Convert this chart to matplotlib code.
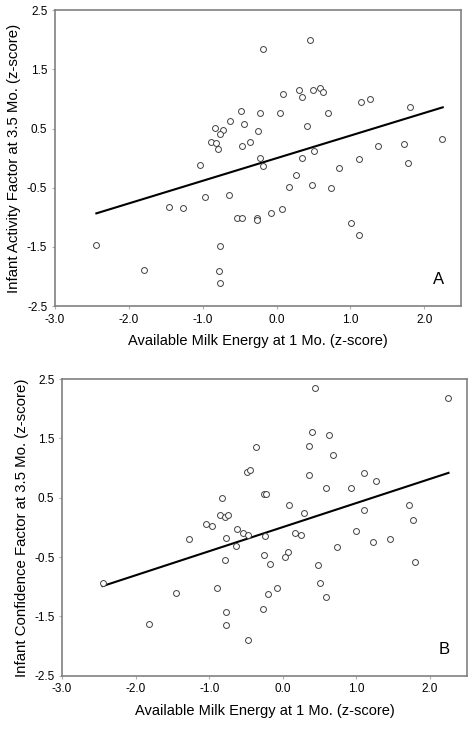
import numpy as np
import matplotlib.pyplot as plt

plt.rcParams["font.family"] = ["Liberation Sans", "DejaVu Sans"]

# Panel A: infant activity factor vs available milk energy
milk_a = [-0.18, 0.45, 0.30, 0.35, 0.49, 0.59, 0.63, 0.09, -0.48, -0.23,
          0.04, 0.69, 1.14, 1.27, 1.80, -0.63, -0.84, -0.44, 0.41, -0.73,
          -0.77, -0.25, -0.89, -0.82, -0.79, -0.47, -0.36, 1.37, 1.72, 2.24,
          0.51, -0.23, 0.35, 1.11, 1.78, -1.04, -0.19, 0.84, 0.26, 0.17,
          0.48, 0.74, -0.97, -0.64, -1.45, -1.27, 0.08, -0.07, -0.54, -0.47,
          -0.26, -0.27, 1.01, 1.11, -2.44, -0.76, -1.80, -0.78, -0.76]
activity = [1.85, 2.00, 1.16, 1.03, 1.15, 1.19, 1.11, 1.09, 0.80, 0.77,
            0.77, 0.77, 0.95, 1.00, 0.87, 0.63, 0.51, 0.58, 0.55, 0.47,
            0.41, 0.46, 0.27, 0.25, 0.15, 0.21, 0.28, 0.20, 0.24, 0.33,
            0.12, 0.00, 0.01, -0.01, -0.08, -0.12, -0.14, -0.16, -0.29, -0.48,
            -0.45, -0.50, -0.66, -0.63, -0.82, -0.84, -0.86, -0.93, -1.01, -1.01,
            -1.01, -1.05, -1.10, -1.30, -1.46, -1.48, -1.89, -1.91, -2.11]
fit_a = {"slope": 0.382, "intercept": 0.0, "x_from": -2.44, "x_to": 2.25}

# Panel B: infant confidence factor vs available milk energy
milk_b = [0.44, 2.24, 0.40, 0.63, -0.37, 0.35, 0.68, -0.49, -0.45, 0.35,
          1.10, 1.26, 0.58, 0.93, -0.26, -0.23, -0.83, 0.08, 1.72, 1.10,
          0.29, -0.85, -0.79, -0.74, 1.77, -1.04, -0.97, -0.63, -0.54, -0.47,
          0.16, 0.25, 1.00, -1.27, -0.77, -0.24, 1.23, 1.46, -0.64, 0.74,
          -0.26, 0.07, 0.03, -0.79, -0.18, 0.48, 1.79, -2.45, 0.51, -0.90,
          -0.08, -1.45, -0.20, 0.58, -0.27, -0.77, -1.82, -0.77, -0.47]
confidence = [2.35, 2.18, 1.61, 1.55, 1.36, 1.38, 1.22, 0.94, 0.96, 0.89,
              0.92, 0.79, 0.66, 0.66, 0.56, 0.57, 0.49, 0.38, 0.37, 0.30,
              0.25, 0.21, 0.18, 0.21, 0.13, 0.05, 0.02, -0.03, -0.09, -0.12,
              -0.09, -0.12, -0.06, -0.19, -0.17, -0.15, -0.24, -0.19, -0.31, -0.33,
              -0.47, -0.42, -0.49, -0.55, -0.62, -0.64, -0.58, -0.94, -0.94, -1.02,
              -1.02, -1.11, -1.12, -1.17, -1.37, -1.42, -1.63, -1.64, -1.89]
fit_b = {"slope": 0.406, "intercept": 0.006, "x_from": -2.45, "x_to": 2.25}

x_ticks = [-3.0, -2.0, -1.0, 0.0, 1.0, 2.0]
y_ticks = [-2.5, -1.5, -0.5, 0.5, 1.5, 2.5]
x_label = "Available Milk Energy at 1 Mo. (z-score)"

panels = [
    ([0.116, 0.580, 0.857, 0.406], milk_a, activity, fit_a,
     "Infant Activity Factor at 3.5 Mo. (z-score)", "A"),
    ([0.131, 0.073, 0.854, 0.407], milk_b, confidence, fit_b,
     "Infant Confidence Factor at 3.5 Mo. (z-score)", "B"),
]

fig = plt.figure(figsize=(4.74, 7.29), dpi=100)

for rect, xs, ys, fit, ylab, tag in panels:
    ax = fig.add_axes(rect)
    ax.scatter(xs, ys, s=18, facecolors="white", edgecolors="#404040",
               linewidths=0.7, zorder=3)
    lx = np.array([fit["x_from"], fit["x_to"]])
    ax.plot(lx, fit["slope"] * lx + fit["intercept"], color="black", lw=1.5, zorder=2)
    ax.set_xlim(-3.0, 2.5)
    ax.set_ylim(-2.5, 2.5)
    ax.set_xticks(x_ticks)
    ax.set_xticklabels([f"{v:.1f}" for v in x_ticks])
    ax.set_yticks(y_ticks)
    ax.set_yticklabels([f"{v:.1f}" for v in y_ticks])
    ax.tick_params(length=2.5, width=0.8, color="#b0b0b0", labelsize=8.5, pad=3)
    for sp in ax.spines.values():
        sp.set_color("#808080")
        sp.set_linewidth(1.2)
    ax.set_xlabel(x_label, fontsize=10.5, labelpad=6)
    ax.set_ylabel(ylab, fontsize=10.8, labelpad=4)
    ax.text(0.945, 0.09, tag, transform=ax.transAxes, fontsize=12,
            ha="center", va="center")

fig.savefig("out.png", dpi=100)
